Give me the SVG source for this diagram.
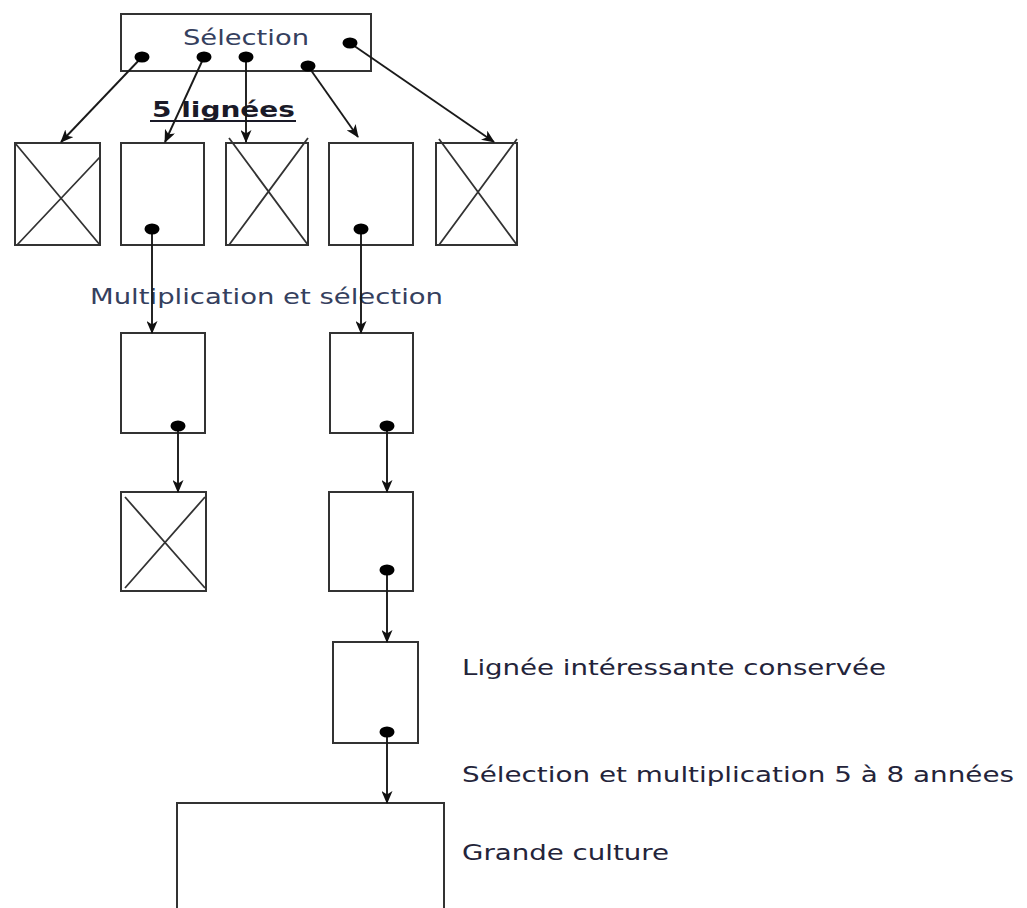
<svg xmlns="http://www.w3.org/2000/svg" width="1027" height="908" viewBox="0 0 1027 908">
<style>
.box{fill:#fff;stroke:#333;stroke-width:2}
.x{stroke:#333;stroke-width:1.8;fill:none}
.dot{fill:#000}
.con{stroke:#1a1a1a;stroke-width:1.9;fill:none;marker-end:url(#ah)}
.lbl{font-family:"DejaVu Sans",Verdana,sans-serif;font-size:21px;fill:#24243a}
.top{fill:#35405e}
.bold{font-weight:bold;fill:#1a1a28}
</style>
<defs>
<marker id="ah" viewBox="0 0 13 11" refX="12" refY="5.5" markerWidth="13" markerHeight="11" markerUnits="userSpaceOnUse" orient="auto">
<path d="M0,0 L13,5.5 L0,11 L3.5,5.5 Z" fill="#111"/>
</marker>
</defs>
<rect width="1027" height="908" fill="#fff"/>

<g id="node-selection">
<rect class="box" x="121" y="14" width="250" height="57"/>
<text class="lbl top" x="183" y="45" textLength="126" lengthAdjust="spacingAndGlyphs">Sélection</text>
</g>

<g id="label-5lignees">
<text class="lbl bold" x="152" y="117" textLength="143" lengthAdjust="spacingAndGlyphs">5 lignées</text>
<line x1="150" y1="121" x2="296" y2="121" stroke="#1a1a28" stroke-width="2"/>
</g>

<g id="node-l1">
<rect class="box" x="15" y="143" width="85" height="102"/>
<path class="x" d="M15,143 L100,245 M17,245 L100,157"/>
</g>
<g id="node-l2">
<rect class="box" x="121" y="143" width="83" height="102"/>
</g>
<g id="node-l3">
<rect class="box" x="226" y="143" width="82" height="102"/>
<path class="x" d="M229,138 L308,245 M229,245 L308,138"/>
</g>
<g id="node-l4">
<rect class="box" x="329" y="143" width="84" height="102"/>
</g>
<g id="node-l5">
<rect class="box" x="436" y="143" width="81" height="102"/>
<path class="x" d="M439,139 L517,245 M439,245 L517,139"/>
</g>

<g id="label-multiplication">
<text class="lbl top" x="90" y="304" textLength="353" lengthAdjust="spacingAndGlyphs">Multiplication et sélection</text>
</g>

<g id="node-m1">
<rect class="box" x="121" y="333" width="84" height="100"/>
</g>
<g id="node-m2">
<rect class="box" x="330" y="333" width="83" height="100"/>
</g>

<g id="node-n1">
<rect class="box" x="121" y="492" width="85" height="99"/>
<path class="x" d="M125,497 L205,588 M125,588 L205,497"/>
</g>
<g id="node-n2">
<rect class="box" x="329" y="492" width="84" height="99"/>
</g>

<g id="node-conservee">
<rect class="box" x="333" y="642" width="85" height="101"/>
<text class="lbl" x="462" y="675" textLength="424" lengthAdjust="spacingAndGlyphs">Lignée intéressante conservée</text>
</g>

<g id="label-sel-mult">
<text class="lbl" x="462" y="782" textLength="552" lengthAdjust="spacingAndGlyphs">Sélection et multiplication 5 à 8 années</text>
</g>

<g id="node-grande-culture">
<path class="box" d="M177,915 L177,803 L444,803 L444,915"/>
<text class="lbl" x="462" y="860" textLength="207" lengthAdjust="spacingAndGlyphs">Grande culture</text>
</g>

<g id="connectors">
<line class="con" x1="142" y1="57" x2="61" y2="142"/>
<line class="con" x1="204" y1="57" x2="165" y2="142"/>
<line class="con" x1="246" y1="57" x2="246" y2="142"/>
<line class="con" x1="308" y1="66" x2="358" y2="137"/>
<line class="con" x1="350" y1="43" x2="494" y2="142"/>
<line class="con" x1="152" y1="230" x2="152" y2="333"/>
<line class="con" x1="361" y1="230" x2="361" y2="333"/>
<line class="con" x1="178" y1="426" x2="178" y2="492"/>
<line class="con" x1="387" y1="426" x2="387" y2="492"/>
<line class="con" x1="387" y1="570" x2="387" y2="642"/>
<line class="con" x1="387" y1="732" x2="387" y2="803"/>
<ellipse class="dot" cx="142" cy="57" rx="7.5" ry="5.5"/>
<ellipse class="dot" cx="204" cy="57" rx="7.5" ry="5.5"/>
<ellipse class="dot" cx="246" cy="57" rx="7.5" ry="5.5"/>
<ellipse class="dot" cx="308" cy="66" rx="7.5" ry="5.5"/>
<ellipse class="dot" cx="350" cy="43" rx="7.5" ry="5.5"/>
<ellipse class="dot" cx="152" cy="229" rx="7.5" ry="5.5"/>
<ellipse class="dot" cx="361" cy="229" rx="7.5" ry="5.5"/>
<ellipse class="dot" cx="178" cy="426" rx="7.5" ry="5.5"/>
<ellipse class="dot" cx="387" cy="426" rx="7.5" ry="5.5"/>
<ellipse class="dot" cx="387" cy="570" rx="7.5" ry="5.5"/>
<ellipse class="dot" cx="387" cy="732" rx="7.5" ry="5.5"/>
</g>
</svg>
